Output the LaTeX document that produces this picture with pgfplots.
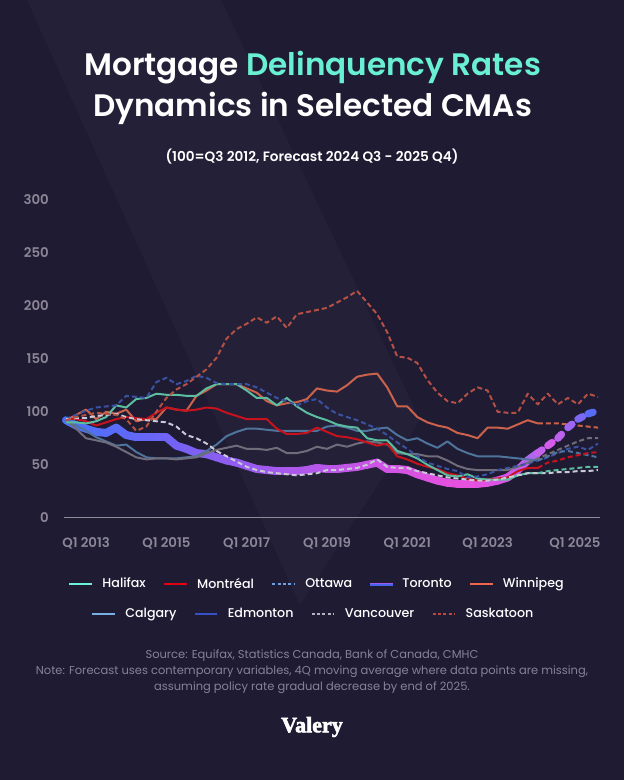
\documentclass[border=0pt]{standalone}
\usepackage{pgfplots}
\pgfplotsset{compat=1.18}
\usepackage{pgfplotstable}
\usepackage{fontspec}
\setmainfont{Poppins}
\newfontfamily\psemi{Poppins SemiBold}
\newfontfamily\pmed{Poppins Medium}
\newfontfamily\logofont{Liberation Serif Bold}[FakeBold=2.5]
\definecolor{bg}{RGB}{30,27,51}
\definecolor{band}{RGB}{35,32,56}
\definecolor{mint}{RGB}{105,240,210}
\definecolor{tickgrey}{RGB}{140,134,150}
\definecolor{axisgrey}{RGB}{140,138,150}
\definecolor{srcgrey}{RGB}{135,130,150}
% chart line colours
\definecolor{halc}{RGB}{92,190,160}
\definecolor{monc}{RGB}{200,18,30}
\definecolor{ottc}{RGB}{58,82,160}
\definecolor{winc}{RGB}{205,98,76}
\definecolor{calc}{RGB}{80,115,155}
\definecolor{edmc}{RGB}{112,108,122}
\definecolor{vanc}{RGB}{200,200,215}
\definecolor{sasc}{RGB}{180,80,68}
% legend colours
\definecolor{lhal}{RGB}{110,240,212}
\definecolor{lmon}{RGB}{225,0,20}
\definecolor{lott}{RGB}{110,160,225}
\definecolor{lpur}{RGB}{160,90,240}
\definecolor{lblu}{RGB}{70,100,235}
\definecolor{lwin}{RGB}{240,102,75}
\definecolor{lcal}{RGB}{120,175,230}
\definecolor{ledm}{RGB}{55,80,200}
\definecolor{lvan}{RGB}{180,180,195}
\definecolor{lsas}{RGB}{190,70,60}
\pgfplotsset{
  legline/.style={legend image code/.code={\draw[##1] (0pt,0pt) -- (17pt,0pt);}},
  legdot/.style={legend image code/.code={\draw[##1, dash pattern=on 2.2pt off 1.8pt] (0pt,0pt) -- (17pt,0pt);}},
  legtor/.style={legend image code/.code={\draw[line width=1.1pt, lpur] (0pt,0.55pt) -- (17pt,0.55pt); \draw[line width=1.1pt, lblu] (0pt,-0.55pt) -- (17pt,-0.55pt);}},
  sline/.style={line width=1.5pt, line join=round},
  dline/.style={line width=1.5pt, line join=round, dash pattern=on 3.75pt off 2.25pt},
}
\pgfplotstableread{
i hal mon ott tor win cal edm van sas
0 90 93 93 92 92 92 92 93 92
1 90 93 97 87 97 87 84 94 95
2 89 91 101 84 102 82 75 94 97
3 91 87 104 81 93 76 73 96 99
4 95 90 105 80 100 72 71 97 98
5 106 93 106 85 98 68 67 98 97
6 104 95 115 78 102 69 62 95 93
7 112 94 114 76 91 62 57 93 82
8 113 93 113 76 93 57 55 92 86
9 117 99 128 76 93 56 56 91 100
10 116 104 132 76 104 56 56 90 113
11 116 102 126 68 102 56 55 86 121
12 115 101 129 65 101 57 56 78 126
13 115 102 134 61 115 58 57 75 133
14 122 104 132 60 120 63 61 70 140
15 126 103 127 57 126 69 64 63 151
16 126 99 126 54 126 77 66 58 169
17 126 96 126 52 126 81 68 53 178
18 120 93 126 49 122 84 65 48 183
19 113 93 123 46 118 84 65 45 189
20 113 93 118 45 110 83 64 43 184
21 106 84 113 44 106 82 66 42 190
22 113 79 110 44 108 82 61 41 179
23 105 79 106 44 109 82 61 40 192
24 99 80 110 45 112 82 63 41 194
25 95 85 112 47 122 82 67 42 196
26 92 81 104 46 120 86 65 45 198
27 88 77 98 46 119 87 69 45 203
28 86 76 95 47 125 85 67 46 208
29 85 74 92 48 133 82 70 47 214
30 75 71 88 50 135 82 72 50 203
31 73 68 84 52 136 84 71 55 192
32 73 70 78 46 123 85 69 48 175
33 63 58 71 46 105 78 61 47 152
34 60 55 65 45 105 73 60 47 151
35 56 51 58 41 95 75 60 44 146
36 50 48 52 38 90 70 58 42 130
37 45 46 49 35 87 66 58 40 118
38 40 42 46 33 85 72 54 38 110
39 39 40 44 32 80 65 49 37 108
40 41 37 38 32 78 61 46 36 117
41 37 35 39 32 75 58 45 35 123
42 36 36 41 33 85 58 45 35 120
43 36 37 45 35 85 58 45 36 100
44 36 38 47 38 84 57 45 38 99
45 40 44 49 45 88 56 48 40 99
46 42 47 51 54 92 55 52 42 117
47 42 47 54 61 89 54 56 42 107
48 44 52 57 68 89 58 60 42 117
49 45 54 61 75 89 62 64 43 107
50 46 57 65 85 88 63 68 43 113
51 47 59 67 93 87 61 72 44 107
52 48 61 64 98 86 59 75 44 117
53 48 62 70 101 85 57 75 45 114
}\data
\begin{document}
\begin{tikzpicture}
\path[use as bounding box] (0,0) rectangle (468pt,-585pt);
\fill[bg] (0,0) rectangle (468pt,-585pt);
\fill[band] (20.25pt,0pt) -- (165.75pt,0pt) -- (315pt,-315pt) -- (225pt,-453.75pt) -- cycle;
% titles
\node[anchor=base, text=white, font=\psemi\fontsize{23.3}{28}\selectfont, inner sep=0pt] at (234.5pt,-56.5pt) {Mortgage \textcolor{mint}{Delinquency Rates}};
\node[anchor=base, text=white, font=\psemi\fontsize{23.3}{28}\selectfont, inner sep=0pt] at (234.5pt,-87.75pt) {Dynamics in Selected CMAs};
\node[anchor=base, text=white, font=\psemi\fontsize{10.2}{12}\selectfont, inner sep=0pt] at (234pt,-121.3pt) {(100=Q3 2012, Forecast 2024 Q3 - 2025 Q4)};
% source
\node[text=srcgrey, font=\fontsize{8.6}{10}\selectfont, inner sep=0pt] at (234pt,-492pt) {Source: Equifax, Statistics Canada, Bank of Canada, CMHC};
\node[text=srcgrey, font=\fontsize{8.6}{10}\selectfont, inner sep=0pt] at (234pt,-504pt) {Note: Forecast uses contemporary variables, 4Q moving average where data points are missing,};
\node[text=srcgrey, font=\fontsize{8.6}{10}\selectfont, inner sep=0pt] at (234pt,-515.5pt) {assuming policy rate gradual decrease by end of 2025.};
\node[text=white, font=\logofont\fontsize{16.5}{18}\selectfont, inner sep=0pt] at (234pt,-545.25pt) {Valery};
\begin{axis}[
  at={(48pt,-388.3pt)}, anchor=south west,
  scale only axis, width=402pt, height=238.5pt,
  xmin=-0.2, xmax=53.2, ymin=0, ymax=300,
  axis x line=bottom, axis y line=left,
  y axis line style={draw=none},
  x axis line style={-, draw=axisgrey, line width=1.1pt},
  major tick length=0pt,
  xtick={2,10,18,26,34,42,50},
  xticklabels={Q1 2013,Q1 2015,Q1 2017,Q1 2019,Q1 2021,Q1 2023,\hspace*{10.5pt}Q1 2025},
  ytick={0,50,100,150,200,250,300},
  /pgf/number format/assume math mode=true,
  tick label style={font=\psemi\fontsize{10}{12}\selectfont, text=tickgrey, inner sep=0pt},
  yticklabel style={anchor=east, xshift=-11.25pt},
  xticklabel style={anchor=north, yshift=-15pt},
  clip=false,
  colormap={tormap}{rgb255(0cm)=(70,115,250); rgb255(10cm)=(110,100,245); rgb255(20cm)=(160,90,238); rgb255(30cm)=(200,85,230); rgb255(40cm)=(232,80,222); rgb255(44cm)=(215,85,228); rgb255(47cm)=(165,105,240); rgb255(48cm)=(225,90,232); rgb255(50cm)=(175,100,240); rgb255(53cm)=(70,110,248)},
  point meta min=0, point meta max=53,
  legend columns=5,
  legend cell align=left,
  legend style={at={(0.4700,-0.2085)}, anchor=center, draw=none, fill=none, text=white,
    font=\pmed\fontsize{9.5}{12}\selectfont, nodes={inner sep=0pt},
    /tikz/every odd column/.append style={column sep=6.75pt},
    /tikz/every even column/.append style={column sep=12.75pt}},
]
% Toronto actual (thick gradient)
\addplot[mesh, point meta=x, line width=6pt, line cap=round, forget plot, restrict x to domain=0:47] table[x=i, y=tor] {\data};
% solid actual series
\addplot[sline, calc, forget plot, restrict x to domain=0:47] table[x=i, y=cal] {\data};
\addplot[sline, edmc, forget plot, restrict x to domain=0:46] table[x=i, y=edm] {\data};
\addplot[sline, winc, forget plot, restrict x to domain=0:47] table[x=i, y=win] {\data};
\addplot[sline, monc, forget plot, restrict x to domain=0:47] table[x=i, y=mon] {\data};
\addplot[sline, halc, forget plot, restrict x to domain=0:47] table[x=i, y=hal] {\data};
% dashed series
\addplot[dline, ottc, forget plot] table[x=i, y=ott] {\data};
\addplot[dline, vanc, forget plot] table[x=i, y=van] {\data};
\addplot[dline, sasc, forget plot] table[x=i, y=sas] {\data};
% forecasts
\addplot[dline, calc, forget plot, restrict x to domain=47:53] table[x=i, y=cal] {\data};
\addplot[dline, edmc, forget plot, restrict x to domain=46:53] table[x=i, y=edm] {\data};
\addplot[dline, winc, forget plot, restrict x to domain=47:53] table[x=i, y=win] {\data};
\addplot[dline, monc, forget plot, restrict x to domain=47:53] table[x=i, y=mon] {\data};
\addplot[dline, halc, forget plot, restrict x to domain=47:53] table[x=i, y=hal] {\data};
\addplot[mesh, point meta=x, line width=5.5pt, line cap=round, dash pattern=on 4pt off 20pt, forget plot, restrict x to domain=47:53] table[x=i, y=tor] {\data};
% legend row 1
\addlegendimage{legline, lhal, line width=2pt}\addlegendentry{Halifax}
\addlegendimage{legline, lmon, line width=2pt}\addlegendentry{Montréal}
\addlegendimage{legdot, lott, line width=2pt}\addlegendentry{Ottawa}
\addlegendimage{legtor}\addlegendentry{Toronto}
\addlegendimage{legline, lwin, line width=2pt}\addlegendentry{Winnipeg}
\end{axis}
\begin{axis}[
  at={(48pt,-388.3pt)}, anchor=south west,
  scale only axis, width=402pt, height=238.5pt,
  xmin=0, xmax=1, ymin=0, ymax=1, hide axis,
  legend columns=4,
  legend cell align=left,
  legend style={at={(0.4630,-0.3028)}, anchor=center, draw=none, fill=none, text=white,
    font=\pmed\fontsize{9.5}{12}\selectfont, nodes={inner sep=0pt},
    /tikz/every odd column/.append style={column sep=6.75pt},
    /tikz/every even column/.append style={column sep=12.75pt}},
]
\addlegendimage{legline, lcal, line width=2pt}\addlegendentry{Calgary}
\addlegendimage{legline, ledm, line width=2pt}\addlegendentry{Edmonton}
\addlegendimage{legdot, lvan, line width=2pt}\addlegendentry{Vancouver}
\addlegendimage{legdot, lsas, line width=2pt}\addlegendentry{Saskatoon}
\end{axis}
\end{tikzpicture}
\end{document}
